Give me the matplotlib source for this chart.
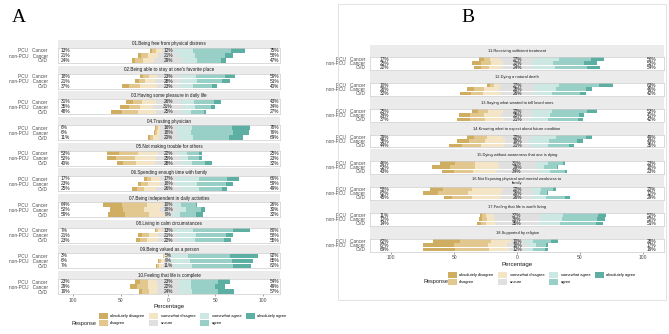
import numpy as np
import matplotlib.pyplot as plt
from matplotlib.patches import Patch, Rectangle

plt.rcParams['font.family'] = ['Liberation Sans', 'DejaVu Sans']

# figure size in pixels
W, H = 669, 334

categories = ['absolutely disagree', 'disagree', 'somewhat disagree', 'unsure',
              'somewhat agree', 'agree', 'absolutely agree']
colors = ['#CFAE62', '#E2C88F', '#F3E5C6', '#E0E0E0', '#CDE7E3', '#98CFC7', '#5DAFA4']
groups = ['PCU   Cancer', 'non-PCU   Cancer', 'CVD']

# ---- panel A: items 01-10 (each entry = PCU Cancer, non-PCU Cancer, CVD) ----
titles_a = ['01.Being free from physical distress',
            "02.Being able to stay at one's favorite place",
            '03.Having some pleasure in daily life',
            '04.Trusting physician',
            '05.Not making trouble for others',
            '06.Spending enough time with family',
            '07.Being independent in daily activities',
            '08.Living in calm circumstances',
            '09.Being valued as a person',
            '10.Feeling that life is complete']
a_abs_dis = [[2, 3, 4], [3, 4, 7], [7, 9, 12], [1, 1, 2], [12, 10, 6],
             [3, 4, 5], [20, 14, 18], [1, 4, 4], [0, 1, 1], [5, 7, 4]]
a_dis = [[4, 7, 8], [6, 7, 12], [10, 12, 17], [2, 2, 3], [20, 20, 14],
         [5, 7, 8], [27, 22, 25], [2, 7, 8], [1, 2, 2], [8, 12, 7]]
a_some_dis = [[7, 11, 12], [9, 10, 18], [14, 14, 19], [3, 3, 6], [21, 22, 20],
              [9, 12, 12], [17, 16, 16], [4, 10, 11], [2, 3, 4], [10, 10, 8]]
a_unsure = [[12, 21, 29], [23, 28, 23], [26, 31, 25], [16, 18, 20], [22, 25, 28],
            [17, 18, 26], [10, 18, 9], [13, 21, 22], [5, 9, 11], [23, 22, 24]]
a_some_agr = [[20, 18, 16], [18, 17, 15], [14, 13, 12], [17, 15, 16], [9, 8, 11],
              [24, 22, 20], [9, 10, 8], [20, 19, 17], [18, 19, 20], [13, 13, 13]]
a_agr = [[40, 32, 25], [30, 26, 20], [21, 17, 13], [42, 44, 38], [13, 12, 14],
         [30, 30, 24], [15, 16, 17], [42, 32, 31], [45, 44, 43], [28, 25, 28]]
a_abs_agr = [[15, 8, 6], [11, 8, 5], [8, 4, 2], [19, 17, 15], [3, 3, 7],
             [12, 7, 5], [2, 4, 7], [18, 7, 7], [29, 22, 19], [13, 11, 16]]

# ---- panel B: items 11-18 ----
titles_b = ['11.Receiving sufficient treatment',
            '12.Dying a natural death',
            '13.Saying what wanted to tell loved ones',
            '14.Knowing what to expect about future condition',
            '15.Dying without awareness that one is dying',
            '16.Not Exposing physical and mental weakness to\nfamily',
            '17.Feeling that life is worth living',
            '18.Supported by religion']
b_abs_dis = [[4, 7, 5], [2, 6, 8], [5, 9, 10], [6, 9, 11], [12, 14, 10],
             [10, 12, 6], [2, 2, 3], [22, 25, 26]]
b_dis = [[5, 8, 7], [3, 8, 10], [8, 11, 12], [10, 13, 15], [16, 20, 15],
         [23, 24, 16], [3, 4, 4], [24, 27, 27]]
b_some_dis = [[8, 10, 10], [5, 12, 14], [12, 14, 15], [13, 16, 18], [18, 19, 18],
              [25, 26, 23], [6, 6, 7], [16, 15, 16]]
b_unsure = [[27, 22, 24], [27, 28, 26], [22, 25, 21], [22, 19, 21], [31, 29, 34],
            [22, 26, 26], [37, 36, 35], [10, 16, 12]]
b_some_agr = [[20, 18, 18], [20, 17, 15], [17, 14, 14], [20, 16, 14], [9, 7, 9],
              [8, 5, 10], [18, 18, 17], [8, 7, 7]]
b_agr = [[25, 24, 26], [32, 24, 22], [28, 23, 24], [24, 22, 17], [12, 10, 12],
         [10, 6, 15], [28, 28, 28], [14, 8, 9]]
b_abs_agr = [[11, 11, 10], [11, 5, 5], [8, 4, 4], [5, 5, 4], [2, 1, 2],
             [2, 1, 4], [6, 6, 6], [6, 2, 3]]

fig = plt.figure(figsize=(W / 100, H / 100), dpi=100)
fig.patch.set_facecolor('white')

# light frame around panel B
fig.add_artist(Rectangle((338 / W, 1 - 300 / H), (666 - 338) / W, (300 - 4) / H,
                         transform=fig.transFigure, fill=False,
                         edgecolor='#DDDDDD', linewidth=0.6))


def px_axes(x, y, w, h):
    return fig.add_axes([x / W, 1 - (y + h) / H, w / W, h / H])


def draw_panel(titles, data, x0, x1, xlim, top0, pitch, strip_h, bar_h,
               title_fs, lab_fs, lx, rx, ypad):
    n = len(titles)
    last = None
    for k, title in enumerate(titles):
        top = top0 + k * pitch
        sax = px_axes(x0, top, x1 - x0, strip_h)
        sax.set_facecolor('#EBEBEB')
        sax.set_xticks([]); sax.set_yticks([])
        for s in sax.spines.values():
            s.set_visible(False)
        sax.text(0.5, 0.5, title, ha='center', va='center', fontsize=title_fs,
                 color='#1A1A1A', transform=sax.transAxes, linespacing=1.0)

        ax = px_axes(x0, top + strip_h, x1 - x0, bar_h)
        vals = np.array([cat[k] for cat in data], dtype=float)  # 7 x 3
        ypos = np.array([2, 1, 0])
        cum = -(vals[0] + vals[1] + vals[2] + vals[3] / 2)
        for c in range(7):
            ax.barh(ypos, vals[c], left=cum, height=0.86, color=colors[c], linewidth=0)
            cum = cum + vals[c]
        left_pct = vals[0] + vals[1] + vals[2]
        right_pct = vals[4] + vals[5] + vals[6]
        for i in range(3):
            kw = dict(va='center', fontsize=lab_fs, color='#1A1A1A')
            ax.text(lx, ypos[i], f'{left_pct[i]:.0f}%', ha='left', **kw)
            ax.text(0, ypos[i], f'{vals[3][i]:.0f}%', ha='center', **kw)
            ax.text(rx, ypos[i], f'{right_pct[i]:.0f}%', ha='right', **kw)
        ax.set_xlim(xlim)
        ax.set_ylim(-0.5, 2.5)
        ax.set_yticks(ypos)
        ax.set_yticklabels(groups, fontsize=lab_fs, color='#4D4D4D')
        ax.tick_params(axis='y', length=0, pad=ypad)
        ax.set_xticks([-100, -50, 0, 50, 100])
        ax.tick_params(axis='x', length=1.5, width=0.4, color='#555555',
                       labelsize=3.6, labelcolor='#4D4D4D', pad=1.0)
        if k < n - 1:
            ax.tick_params(axis='x', length=0, labelbottom=False)
        for s in ax.spines.values():
            s.set_color('#CCCCCC')
            s.set_linewidth(0.5)
        last = ax
    last.set_xticklabels(['100', '50', '0', '50', '100'])
    last.set_xlabel('Percentage', fontsize=4.4, color='#1A1A1A', labelpad=1.2)
    return last


data_a = [a_abs_dis, a_dis, a_some_dis, a_unsure, a_some_agr, a_agr, a_abs_agr]
data_b = [b_abs_dis, b_dis, b_some_dis, b_unsure, b_some_agr, b_agr, b_abs_agr]

draw_panel(titles_a, data_a, 58, 280, (-116, 118), 40, 25.67, 8, 15,
           3.3, 3.4, -113, 117, 7.5)
draw_panel(titles_b, data_b, 370, 664, (-117, 117), 45, 26, 12, 12.5,
           2.9, 3.4, -109, 111, 3.5)

# legends
handles = [Patch(facecolor=c, edgecolor='none', label=l) for c, l in zip(colors, categories)]
for (rx, ry, lx, ly) in [(72, 323, 99, 313), (423, 282, 448, 272)]:
    fig.text(rx / W, 1 - ry / H, 'Response', fontsize=4.0, color='#1A1A1A', va='center')
    fig.legend(handles=handles, loc='upper left', bbox_to_anchor=(lx / W, 1 - ly / H),
               ncol=4, fontsize=2.9, frameon=False, handlelength=2.2, handleheight=2.0,
               handletextpad=0.6, columnspacing=1.2, labelspacing=0.15,
               borderpad=0, borderaxespad=0)

# panel letters
fig.text(12 / W, 1 - 17 / H, 'A', fontsize=14, family='Liberation Serif', va='center')
fig.text(461 / W, 1 - 17 / H, 'B', fontsize=14, family='Liberation Serif', va='center')

fig.savefig('out.png', dpi=100, facecolor='white')
